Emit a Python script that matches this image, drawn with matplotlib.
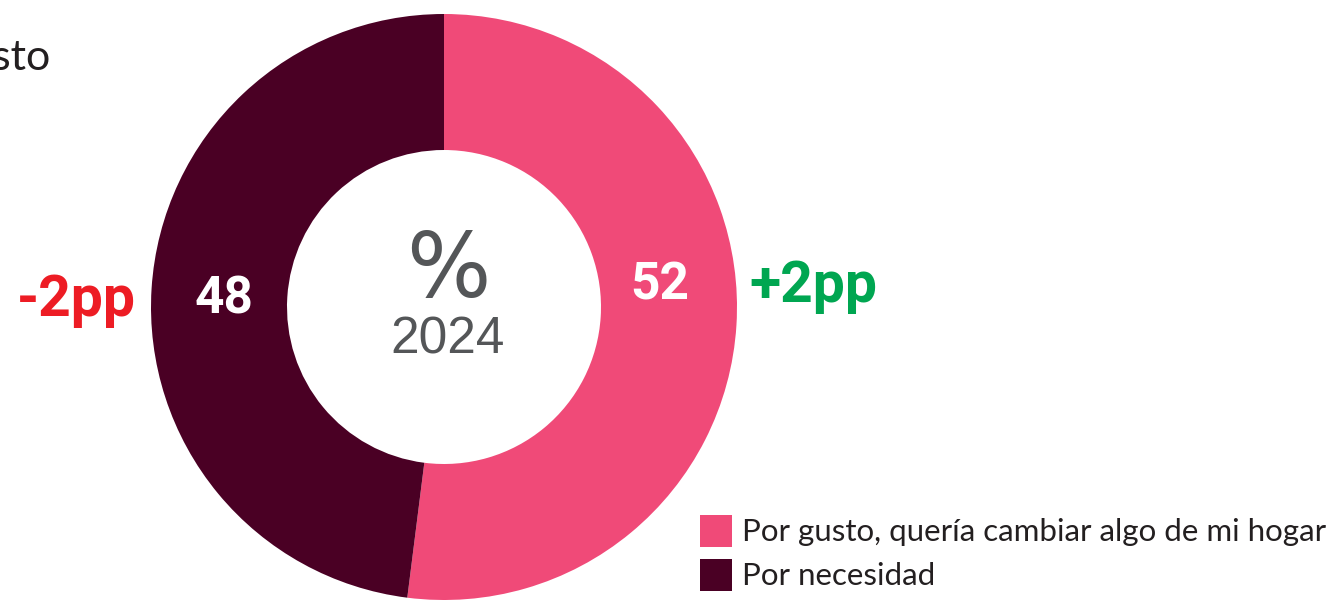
"""
Donut chart: reasons for home renovation, 2024 (% of respondents).
"""

import matplotlib.pyplot as plt
from matplotlib.patches import Rectangle

# data
categories = ["Por gusto, quería cambiar algo de mi hogar", "Por necesidad"]
shares = [52, 48]
changes = ["+2pp", "-2pp"]
year = "2024"
title_tail = "Por gusto"

colors = ["#f04a78", "#4a0024"]
change_colors = ["#00a651", "#ed1c24"]

W, H = 1338, 600
fig = plt.figure(figsize=(W / 100, H / 100), dpi=100)
ax = fig.add_axes([0, 0, 1, 1])

cx, cy = 444, H - 307
r_out, r_in = 293, 157

ax.pie(
    shares,
    colors=colors,
    startangle=90,
    counterclock=False,
    radius=r_out,
    center=(cx, cy),
    wedgeprops=dict(width=r_out - r_in, linewidth=0),
    frame=True,
)
ax.set_xlim(0, W)
ax.set_ylim(0, H)
ax.set_aspect("equal")
ax.axis("off")

# value labels inside the ring, change labels outside
ax.text(660, H - 286, str(shares[0]), color="white", fontsize=37,
        fontweight="bold", family="Roboto", ha="center", va="center")
ax.text(224, H - 300, str(shares[1]), color="white", fontsize=37,
        fontweight="bold", family="Roboto", ha="center", va="center")
ax.text(749, H - 286, changes[0], color=change_colors[0], fontsize=41,
        fontweight="bold", family="Roboto", ha="left", va="center")
ax.text(136, H - 300, changes[1], color=change_colors[1], fontsize=41,
        fontweight="bold", family="Roboto", ha="right", va="center")

# centre
ax.text(448, H - 272, "%", color="#545658", fontsize=64,
        family="Liberation Sans Narrow", ha="center", va="center")
ax.text(448, H - 340, year, color="#545658", fontsize=37,
        family="Liberation Sans", ha="center", va="center")

# title, cut at the left edge as in the source
ax.text(50, H - 58, title_tail, color="#231f20", fontsize=31,
        family="Lato", ha="right", va="center")

# legend
for i, (lab, col) in enumerate(zip(categories, colors)):
    y0 = H - 547 - i * 44
    ax.add_patch(Rectangle((700, y0), 32, 32, color=col, lw=0))
    ax.text(742, y0 + 15, lab, color="#231f20", fontsize=22.5,
            family="Lato", ha="left", va="center")

fig.savefig("out.png", dpi=100)
